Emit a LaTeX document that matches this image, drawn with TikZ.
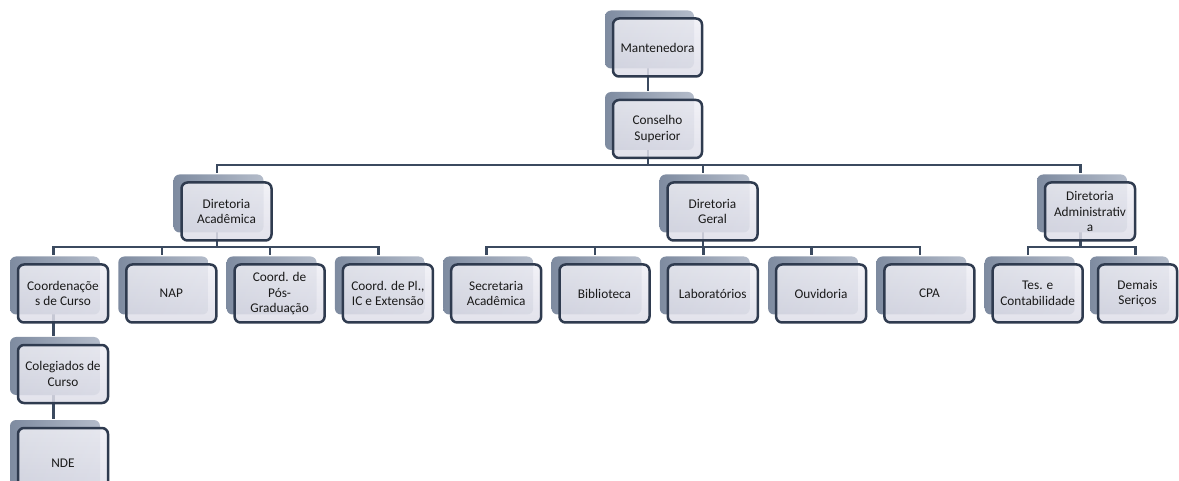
\documentclass[tikz,border=0pt]{standalone}
\usepackage{fontspec}
\setmainfont{Carlito}
\usetikzlibrary{shadows,backgrounds}
\definecolor{boxborder}{HTML}{2F3B4F}
\definecolor{linecol}{HTML}{3B4A5F}
\definecolor{boxtop}{HTML}{EFEFF5}
\definecolor{boxbot}{HTML}{DDDDE8}
\definecolor{shadL}{HTML}{7E8BA0}
\definecolor{shadR}{HTML}{B4BCCA}
\definecolor{txt}{HTML}{1A1A1A}
\tikzset{
  orgbox/.style={draw=boxborder, line width=2.5pt, rounded corners=6pt,
    top color=boxtop, bottom color=boxbot, fill opacity=0.85, text opacity=1,
    minimum width=90pt, minimum height=58pt, inner sep=1pt, align=center,
    font=\fontsize{13.3}{15.5}\selectfont, text=txt,
    general shadow={draw=none, left color=shadL, right color=shadR, fill opacity=1,
      shadow xshift=-8pt, shadow yshift=8pt}},
  conn/.style={draw=linecol, line width=2.5pt}
}
\begin{document}
\begin{tikzpicture}[x=1pt,y=-1pt]
\useasboundingbox (0,0) rectangle (1179,481);
% level 0-1
\node[orgbox, minimum width=89pt] (mant) at (657.5,47.5) {Mantenedora};
\node[orgbox, minimum width=89pt] (cons) at (657.5,129) {Conselho\\Superior};
% level 2
\node[orgbox] (da) at (226.5,211.5) {Diretoria\\Acadêmica};
\node[orgbox] (dg) at (712.5,211.5) {Diretoria\\Geral};
\node[orgbox] (dadm) at (1090,211.5) {Diretoria\\Administrativ\\a};
% level 3
\node[orgbox] (coc) at (63,293.5) {Coordenaçõe\\s de Curso};
\node[orgbox] (nap) at (171.3,293.5) {NAP};
\node[orgbox] (pos) at (279.6,293.5) {Coord. de\\Pós-\\Graduação};
\node[orgbox] (pl) at (387.9,293.5) {Coord. de Pl.,\\IC e Extensão};
\node[orgbox] (sec) at (496.2,293.5) {Secretaria\\Acadêmica};
\node[orgbox] (bib) at (604.5,293.5) {Biblioteca};
\node[orgbox] (lab) at (712.8,293.5) {Laboratórios};
\node[orgbox] (ouv) at (821.1,293.5) {Ouvidoria};
\node[orgbox] (cpa) at (929.4,293.5) {CPA};
\node[orgbox] (tes) at (1037.7,293.5) {Tes. e\\Contabilidade};
\node[orgbox, minimum width=79pt] (dem) at (1137.5,293.5) {Demais\\Seriços};
% level 4-5
\node[orgbox] (col) at (63,374) {Colegiados de\\Curso};
\node[orgbox, minimum height=70pt] (nde) at (63,463) {NDE};

% connector points
\foreach \n in {mant,cons,da,dg,dadm,coc,col}
  \coordinate (\n-c) at ([xshift=-9.5pt]\n.center);
\foreach \n in {cons,da,dg,dadm,coc,nap,pos,pl,sec,bib,lab,ouv,cpa,tes,col,nde}
  \coordinate (\n-t) at ([xshift=-9.5pt,yshift=8pt]\n.north);
\coordinate (dem-t) at ([xshift=-2pt,yshift=8pt]dem.north);
\coordinate (bus1) at (0,165);
\coordinate (bus2) at (0,247);

\begin{scope}[on background layer]
\draw[conn] (mant-c) -- (cons-t);
\foreach \c in {da,dg,dadm}
  \draw[conn] (cons-c) -- (cons-c |- bus1) -| (\c-t);
\foreach \c in {coc,nap,pos,pl}
  \draw[conn] (da-c) -- (da-c |- bus2) -| (\c-t);
\foreach \c in {sec,bib,lab,ouv,cpa}
  \draw[conn] (dg-c) -- (dg-c |- bus2) -| (\c-t);
\foreach \c in {tes,dem}
  \draw[conn] (dadm-c) -- (dadm-c |- bus2) -| (\c-t);
\draw[conn] (coc-c) -- (col-t);
\draw[conn] (col-c) -- (nde-t);
\end{scope}
\end{tikzpicture}
\end{document}
